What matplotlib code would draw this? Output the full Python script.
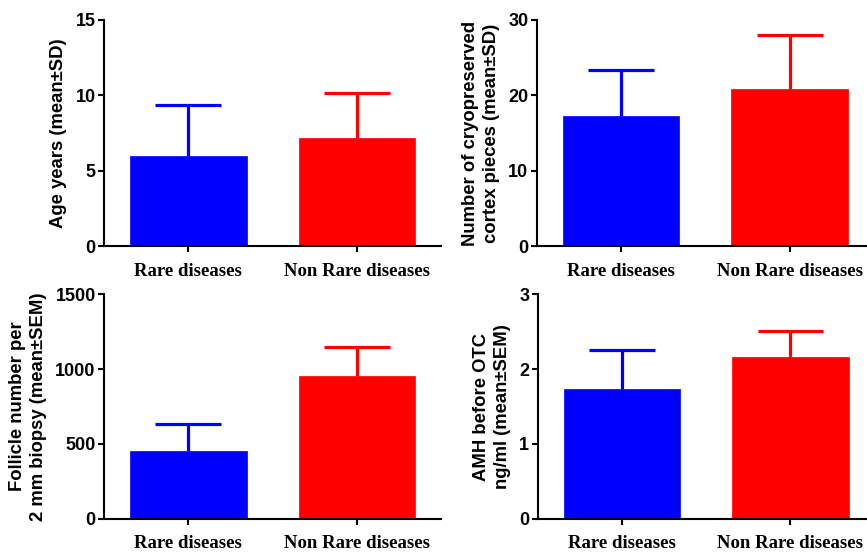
import numpy as np
import matplotlib
matplotlib.use("Agg")
import matplotlib.pyplot as plt

groups = ["Rare diseases", "Non Rare diseases"]
bar_colors = ["#0000ff", "#ff0000"]

# values (mean, upper error)
age_mean = [5.97, 7.15]
age_err = [3.37, 3.03]
pieces_mean = [17.2, 20.8]
pieces_err = [6.2, 7.2]
follicle_mean = [452, 952]
follicle_err = [180, 196]
amh_mean = [1.73, 2.16]
amh_err = [0.53, 0.35]

panels = [
    # (mean, err, ylim, yticks, ylabel, axes rect)
    (age_mean, age_err, 15, [0, 5, 10, 15], "Age years (mean\u00b1SD)",
     [0.120, 0.555, 0.389, 0.409]),
    (pieces_mean, pieces_err, 30, [0, 10, 20, 30],
     "Number of cryopreserved\ncortex pieces (mean\u00b1SD)",
     [0.619, 0.555, 0.389, 0.409]),
    (follicle_mean, follicle_err, 1500, [0, 500, 1000, 1500],
     "Follicle number per\n2 mm biopsy (mean\u00b1SEM)",
     [0.120, 0.062, 0.389, 0.406]),
    (amh_mean, amh_err, 3, [0, 1, 2, 3],
     "AMH before OTC\nng/ml (mean\u00b1SEM)",
     [0.620, 0.062, 0.389, 0.406]),
]

fig = plt.figure(figsize=(8.67, 5.53), dpi=100)

for mean, err, top, yticks, ylabel, rect in panels:
    ax = fig.add_axes(rect)
    x = np.arange(len(groups))
    mean = np.array(mean)
    err = np.array(err)
    ax.bar(x, mean, width=0.69, color=bar_colors, edgecolor=bar_colors, linewidth=0.5, zorder=2)
    # one-sided error bars (upper only)
    ax.vlines(x, mean, mean + err, colors=bar_colors, linewidth=2.3, zorder=1)
    ax.hlines(mean + err, x - 0.195, x + 0.195, colors=bar_colors, linewidth=2.3, zorder=1)
    ax.set_xlim(-0.5, 1.5)
    ax.set_ylim(0, top)
    ax.set_yticks(yticks)
    ax.set_xticks(x)
    ax.set_xticklabels(groups, fontfamily="Liberation Serif", fontweight="bold", fontsize=13.5)
    for lab in ax.get_yticklabels():
        lab.set_fontfamily("Liberation Sans")
        lab.set_fontweight("bold")
        lab.set_fontsize(13)
    ax.set_ylabel(ylabel, fontfamily="Liberation Sans", fontweight="bold",
                  fontsize=13.3, labelpad=6, linespacing=1.3)
    ax.spines["top"].set_visible(False)
    ax.spines["right"].set_visible(False)
    ax.spines["left"].set_linewidth(1.5)
    ax.spines["bottom"].set_linewidth(1.5)
    ax.tick_params(axis="y", length=4, width=1.5, pad=2)
    ax.tick_params(axis="x", length=4, width=1.5, pad=8)
    ax.patch.set_visible(False)

fig.savefig("out.png", dpi=100)
